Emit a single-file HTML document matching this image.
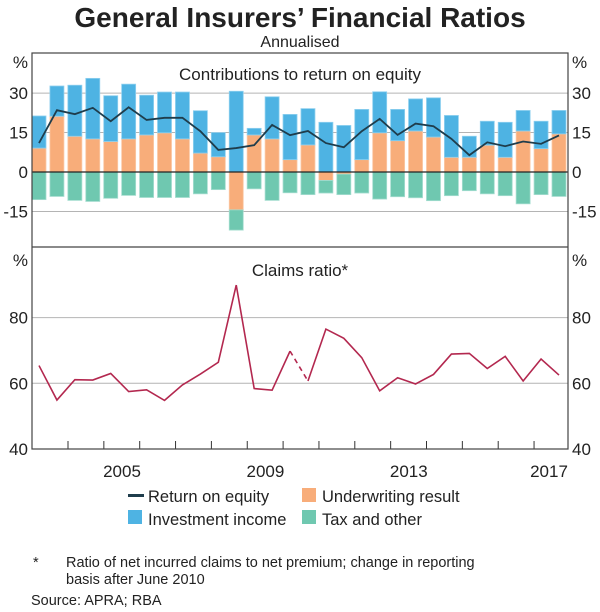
<!DOCTYPE html>
<html><head><meta charset="utf-8"><style>
body{margin:0;background:#fff;font-family:"Liberation Sans",Arial,sans-serif;}
svg text{font-family:"Liberation Sans",Arial,sans-serif;fill:#222;}
</style></head><body>
<svg id="c" width="600" height="607" viewBox="0 0 600 607" xmlns="http://www.w3.org/2000/svg">
<text x="300" y="27" text-anchor="middle" font-size="28" font-weight="bold">General Insurers’ Financial Ratios</text>
<text x="300" y="47" text-anchor="middle" font-size="16">Annualised</text>
<g id="gtop"></g><g id="gbot"></g>
<text x="300" y="80" text-anchor="middle" font-size="17">Contributions to return on equity</text>
<text x="300" y="276" text-anchor="middle" font-size="17">Claims ratio*</text>
<g>
<rect x="128" y="494" width="16" height="3" fill="#1f3d4c"/>
<text x="148" y="502" font-size="16.5">Return on equity</text>
<rect x="302" y="488" width="14" height="14" fill="#f8ad7a"/>
<text x="322" y="502" font-size="16.5">Underwriting result</text>
<rect x="128" y="510" width="14" height="14" fill="#4eb3e3"/>
<text x="148" y="525" font-size="16.5">Investment income</text>
<rect x="302" y="510" width="14" height="14" fill="#6fc8b0"/>
<text x="322" y="525" font-size="16.5">Tax and other</text>
</g>
<text x="33" y="567" font-size="14.5">*</text>
<text x="66" y="567" font-size="14.5">Ratio of net incurred claims to net premium; change in reporting</text>
<text x="66" y="584" font-size="14.5">basis after June 2010</text>
<text x="31" y="605" font-size="14.5">Source:   APRA; RBA</text>
</svg>
<script>
const underwriting=[9.1,21.2,13.6,12.6,11.6,12.6,14.1,14.9,12.6,7.2,5.8,-14.4,14.1,12.6,4.7,10.3,-3.2,-0.8,4.7,14.9,11.9,15.6,13.3,5.6,5.6,10.2,5.6,15.6,8.9,14.5];
const investment=[12.2,11.5,19.4,23.0,17.4,20.8,15.1,15.5,17.8,16.1,9.2,30.7,2.5,16.0,17.2,13.8,18.9,17.7,19.1,15.6,11.9,12.2,14.9,15.9,8.0,9.1,13.3,7.8,10.4,8.9];
const taxOther=[-10.5,-9.3,-10.8,-11.2,-10.0,-8.9,-9.7,-9.7,-9.7,-8.3,-6.7,-7.7,-6.4,-10.8,-7.9,-8.6,-4.8,-7.8,-8.0,-10.3,-9.4,-9.8,-10.9,-9.0,-7.1,-8.3,-9.0,-12.1,-8.6,-9.3];
const roe=[11,23.5,22,24.4,19.3,24.6,19.8,20.6,20.6,15.5,8.4,9.1,10.2,17.9,14,15.6,11,9.4,15.5,20.2,14.1,18.4,17.4,12.6,6.4,11.3,9.8,11.6,10.7,13.9];
const claims=[65.4,54.9,61.1,61.0,63.0,57.5,58.0,54.8,59.5,62.8,66.4,89.9,58.4,57.9,69.8,60.7,76.5,73.7,67.8,57.7,61.7,59.8,62.7,68.9,69.1,64.5,68.2,60.7,67.4,62.5];
const topTicks=[30,15,0,-15];
const botTicks=[80,60,40];
const yearLabels=["2005","2009","2013","2017"];
const NS="http://www.w3.org/2000/svg";
const L=32,R=568,T=53,MID=247,B=449;
const xb=i=>39+i*(559-39)/29;
const yt=v=>172-v*2.63;
const yc=v=>449-(v-40)*3.285;
function mk(tag,attrs,parent){const e=document.createElementNS(NS,tag);for(const k in attrs)e.setAttribute(k,attrs[k]);parent.appendChild(e);return e;}
const gTop=document.getElementById('gtop'),gBot=document.getElementById('gbot');
topTicks.forEach(v=>{
 if(v!==0){const g=mk('line',{x1:L,x2:R,y1:yt(v),y2:yt(v),stroke:'#b4b4b4','stroke-width':1},gTop);
 
 }
 [[L-4,'end'],[R+4,'start']].forEach(([x,a])=>{const t=mk('text',{x:x,y:yt(v)+6,'text-anchor':a,'font-size':17},gTop);t.textContent=v;
 
 });
});
botTicks.forEach(v=>{
 if(v!==40){const g=mk('line',{x1:L,x2:R,y1:yc(v),y2:yc(v),stroke:'#b4b4b4','stroke-width':1},gBot);
 
 }
 [[L-4,'end'],[R+4,'start']].forEach(([x,a])=>{const t=mk('text',{x:x,y:yc(v)+6,'text-anchor':a,'font-size':17},gBot);t.textContent=v;
 
 });
});
[[L-4,'end'],[R+4,'start']].forEach(([x,a])=>{[68,266].forEach(y=>{const t=mk('text',{x:x,y:y,'text-anchor':a,'font-size':17},gTop);t.textContent='%';
 
 });});
const bw=14;
function bar(x,v0,v1,fill,stroke,name){const y0=yt(Math.max(v0,v1)),y1=yt(Math.min(v0,v1));
 const r=mk('rect',{x:x-bw/2,y:y0,width:bw,height:Math.max(0,y1-y0),fill:fill,stroke:stroke,'stroke-width':0.8},gTop);
 
 }
underwriting.forEach((u,i)=>{
 const x=xb(i);let pos=0,neg=0;
 bar(x,0,u,'#f8ad7a','#fbc9a6','underwriting-bar');
 if(u>=0)pos=u;else neg=u;
 const inv=investment[i];
 if(inv>=0){bar(x,pos,pos+inv,'#4eb3e3','#8fd0ef','investment-bar');pos+=inv;}else{bar(x,neg,neg+inv,'#4eb3e3','#8fd0ef','investment-bar');neg+=inv;}
 const tx=taxOther[i];
 if(tx>=0){bar(x,pos,pos+tx,'#6fc8b0','#a6ddd0','tax-bar');}else{bar(x,neg,neg+tx,'#6fc8b0','#a6ddd0','tax-bar');}
});
const z=mk('line',{x1:L,x2:R,y1:yt(0),y2:yt(0),stroke:'#222','stroke-width':1.2},gTop);


const rl=mk('polyline',{points:roe.map((v,i)=>xb(i)+','+yt(v)).join(' '),fill:'none',stroke:'#1f3d4c','stroke-width':1.8},gTop);


const p1=claims.slice(0,15).map((v,i)=>xb(i)+','+yc(v)).join(' ');
const p2=claims.slice(15).map((v,i)=>xb(i+15)+','+yc(v)).join(' ');
const c1=mk('polyline',{points:p1,fill:'none',stroke:'#b3284f','stroke-width':1.6},gBot);


const c2=mk('polyline',{points:p2,fill:'none',stroke:'#b3284f','stroke-width':1.6},gBot);


const c3=mk('line',{x1:xb(14),y1:yc(claims[14]),x2:xb(15),y2:yc(claims[15]),stroke:'#b3284f','stroke-width':1.6,'stroke-dasharray':'5,4'},gBot);


for(let k=0;k<14;k++){const x=68+k*35.85;const t=mk('line',{x1:x,x2:x,y1:B,y2:B-8,stroke:'#333','stroke-width':1},gBot);
 
 }
yearLabels.forEach((s,k)=>{const t=mk('text',{x:Math.min(122+k*143.4,549),y:477,'text-anchor':'middle','font-size':17},gBot);t.textContent=s;
 
 });
const f=mk('rect',{x:L,y:T,width:R-L,height:B-T,fill:'none',stroke:'#444','stroke-width':1.2},gBot);


const d=mk('line',{x1:L,x2:R,y1:MID,y2:MID,stroke:'#444','stroke-width':1.2},gBot);


</script>
</body></html>
